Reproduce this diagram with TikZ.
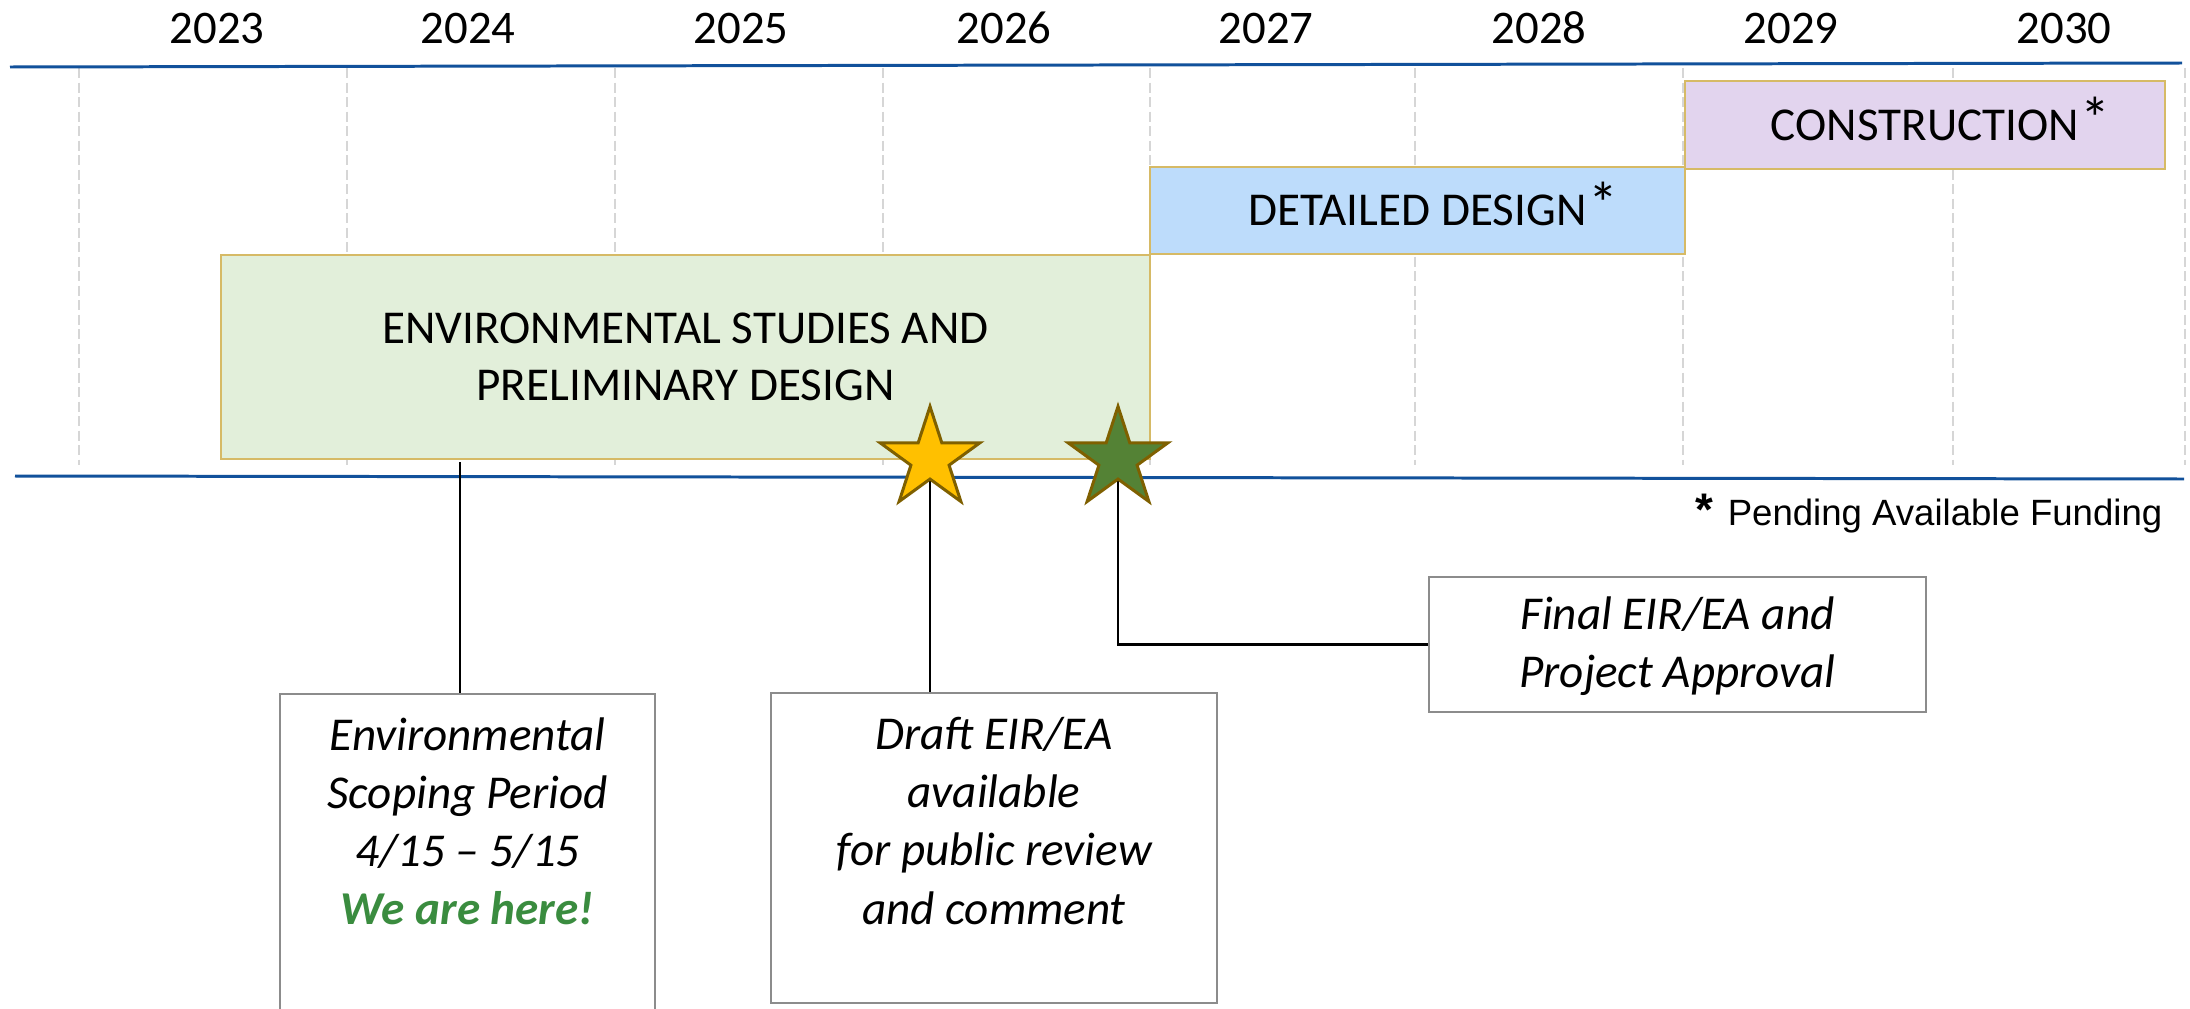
\documentclass[tikz,border=0pt]{standalone}
\usepackage{fontspec}
\setmainfont{Carlito}
\newfontfamily\arialfont{Liberation Sans}
\usetikzlibrary{shapes.geometric}
\definecolor{tlblue}{HTML}{11519B}
\definecolor{gridgray}{HTML}{D6D6D6}
\definecolor{phaseborder}{HTML}{D6BA66}
\definecolor{envfill}{HTML}{E2EFDA}
\definecolor{desfill}{HTML}{BDDCFB}
\definecolor{confill}{HTML}{E2D4EE}
\definecolor{staryellow}{HTML}{FFC000}
\definecolor{stargreen}{HTML}{548235}
\definecolor{staredge}{HTML}{7F6000}
\definecolor{boxedge}{HTML}{8C8C8C}
\definecolor{heregreen}{HTML}{3A8C3F}
\pgfdeclarelayer{back}
\pgfsetlayers{back,main}
\newcommand{\fundmark}{\rlap{\kern0.5pt\smash{\raisebox{0.02em}{\fontsize{17}{17}\selectfont *}}}}
\begin{document}
\begin{tikzpicture}[x=0.01cm,y=-0.01cm,
  yearlabel/.style={font=\fontsize{13.3}{16}\selectfont, inner sep=0},
  gridline/.style={draw=gridgray, line width=0.6pt, dash pattern=on 0.1cm off 0.045cm},
  axisline/.style={draw=tlblue, line width=0.85pt},
  phase/.style={draw=phaseborder, line width=0.6pt, inner sep=0,
    font=\fontsize{13.4}{16.2}\selectfont, align=center},
  milestone/.style={star, star points=5, star point ratio=2.618, minimum size=1.05cm,
    inner sep=0, outer sep=0, draw=staredge, line width=0.85pt},
  notebox/.style={draw=boxedge, line width=0.6pt, fill=white, inner sep=0},
  notetext/.style={font=\fontsize{13.4}{16.5}\selectfont\itshape, align=center, inner sep=0},
  connector/.style={draw=black, line width=0.6pt}]
\useasboundingbox (0,0) rectangle (2190,1009);
\clip (0,0) rectangle (2190,1009);

% year labels
\node[yearlabel] (y2023) at (217,28) {2023};
\node[yearlabel] (y2024) at (468,28) {2024};
\node[yearlabel] (y2025) at (741,28) {2025};
\node[yearlabel] (y2026) at (1004,28) {2026};
\node[yearlabel] (y2027) at (1266,28) {2027};
\node[yearlabel] (y2028) at (1539,28) {2028};
\node[yearlabel] (y2029) at (1791,28) {2029};
\node[yearlabel] (y2030) at (2064,28) {2030};

\begin{pgfonlayer}{back}
  \fill[white] (0,0) rectangle (2190,1009);
  \foreach \gx in {79,347,615,883,1150,1415,1683,1953,2185}
    \draw[gridline] (\gx,68) -- (\gx,465);
  \draw[axisline] (10,67) -- (2182,63);
  \draw[axisline] (15,476) -- (2184,479);
\end{pgfonlayer}

% phases
\node[phase, fill=envfill, minimum width=9.29cm, minimum height=2.04cm] (env) at (685.5,357)
  {ENVIRONMENTAL STUDIES AND\\PRELIMINARY DESIGN};
\node[phase, fill=desfill, minimum width=5.35cm, minimum height=0.87cm] (design) at (1417.5,210.5)
  {DETAILED DESIGN\fundmark};
\node[phase, fill=confill, minimum width=4.80cm, minimum height=0.88cm] (constr) at (1925,125)
  {CONSTRUCTION\fundmark};

% footnote
\node[anchor=base east, inner sep=0, font=\arialfont\fontsize{10.4}{12}\selectfont] (funding) at (2163,525)
  {{\fontsize{13}{13}\selectfont\bfseries *}\kern4pt Pending Available Funding};

% milestone boxes
\node[notebox, minimum width=3.75cm, minimum height=3.46cm] (scoping) at (467.5,867) {};
\node[notetext] (scopingtext) at (467.5,821)
  {Environmental\\Scoping Period\\4/15 – 5/15\\\textcolor{heregreen}{\bfseries We are here!}};
\node[notebox, minimum width=4.46cm, minimum height=3.10cm] (draft) at (994,848) {};
\node[notetext] (drafttext) at (994,821)
  {Draft EIR/EA\\available\\for public review\\and comment};
\node[notebox, minimum width=4.97cm, minimum height=1.35cm] (final) at (1677.5,644.5) {};
\node[notetext] (finaltext) at (1677.5,646)
  {Final EIR/EA and\\Project Approval};

% stars
\node[milestone, fill=staryellow] (draftstar) at (930,459) {};
\node[milestone, fill=stargreen] (finalstar) at (1118,459) {};

% connectors
\coordinate (scopetop) at (460,462);
\begin{pgfonlayer}{back}
  \draw[connector] (scopetop) -- (scopetop |- scoping.north);
  \draw[connector] (draftstar.center) -- (draftstar.center |- draft.north);
  \draw[connector] (finalstar.center) |- (final.west);
\end{pgfonlayer}
\end{tikzpicture}
\end{document}
